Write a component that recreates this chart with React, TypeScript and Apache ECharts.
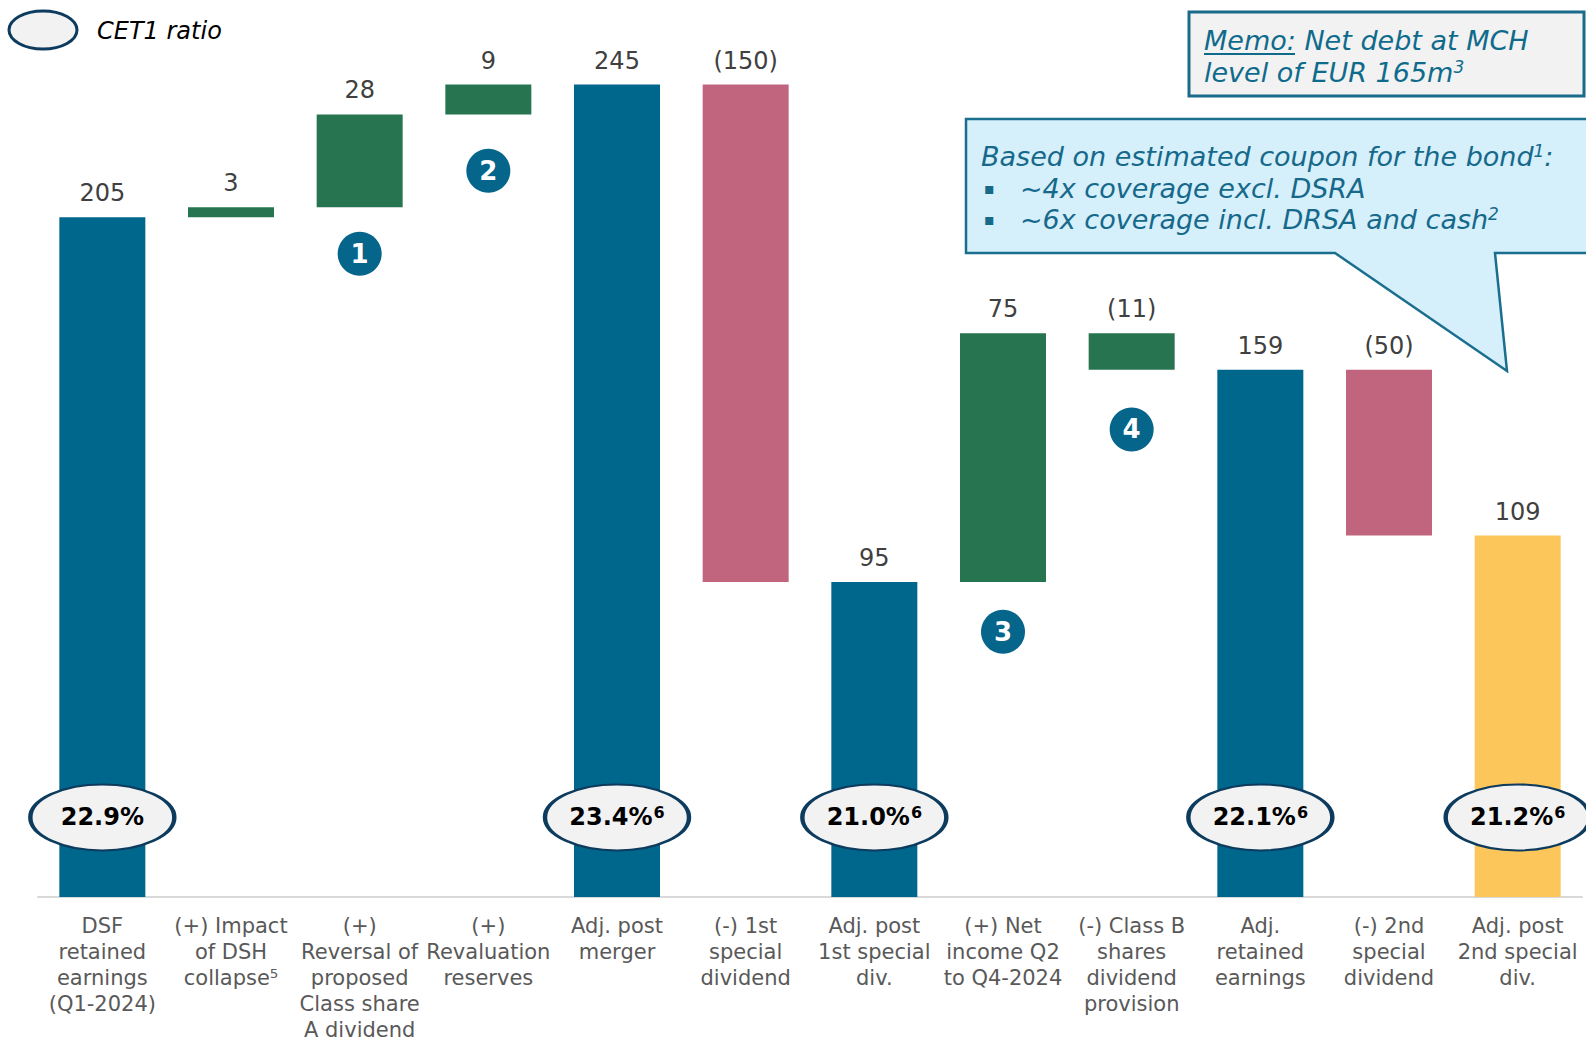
import React, { useEffect, useRef } from "react";
import * as echarts from "echarts";

// ---- data ----
const categories = [
  "DSF\nretained\nearnings\n(Q1-2024)",
  "(+) Impact\nof DSH\ncollapse⁵",
  "(+)\nReversal of\nproposed\nClass share\nA dividend",
  "(+)\nRevaluation\nreserves",
  "Adj. post\nmerger",
  "(-) 1st\nspecial\ndividend",
  "Adj. post\n1st special\ndiv.",
  "(+) Net\nincome Q2\nto Q4-2024",
  "(-) Class B\nshares\ndividend\nprovision",
  "Adj.\nretained\nearnings",
  "(-) 2nd\nspecial\ndividend",
  "Adj. post\n2nd special\ndiv.",
];
const values = [205, 3, 28, 9, 245, -150, 95, 75, -11, 159, -50, 109];
const isTotal = [true, false, false, false, true, false, true, false, false, true, false, true];
const colorGroup = ["total", "gain", "gain", "gain", "total", "loss", "total", "gain", "gain", "total", "loss", "final"];

const cet1Index = [0, 4, 6, 9, 11];
const cet1Values = ["22.9%", "23.4%", "21.0%", "22.1%", "21.2%"];
const cet1Notes = ["", "6", "6", "6", "6"];

const markerIndex = [2, 3, 7, 8];
const markerLevel = [194, 219, 80, 141];
const markerLabels = ["1", "2", "3", "4"];

// ---- styling ----
const COLORS: Record<string, string> = {
  total: "#00678c",
  gain: "#277550",
  loss: "#c1657f",
  final: "#fdc65b",
};
const CET1_LEVEL = 24;
const FONT = "DejaVu Sans";

function fmt(v: number) {
  return v < 0 ? `(${Math.abs(v)})` : `${v}`;
}

export default function App() {
  const ref = useRef<HTMLDivElement>(null);
  useEffect(() => {
    if (!ref.current) return;
    const chart = echarts.init(ref.current, undefined, { renderer: "svg" });

    const base: number[] = [];
    const height: number[] = [];
    let running = 0;
    values.forEach((v, i) => {
      if (isTotal[i]) {
        base.push(0);
        height.push(v);
        running = v;
      } else {
        const end = running + v;
        base.push(Math.min(running, end));
        height.push(Math.abs(v));
        running = end;
      }
    });

    const ellipsePath = "path://M0,30 A60,30 0 1,1 120,30 A60,30 0 1,1 0,30 Z";
    const textStyle = (size: number, color: string, italic = true) => ({
      fontFamily: FONT,
      fontStyle: italic ? "italic" : "normal",
      fontSize: size,
      fill: color,
      verticalAlign: "middle",
    });
    const supRich = (color: string) => ({
      s: { fontFamily: FONT, fontStyle: "italic", fontSize: 17, fill: color, color, verticalAlign: "top", lineHeight: 27 },
    });

    chart.setOption({
      animation: false,
      grid: { left: 38, right: 4, top: 68, bottom: 144, containLabel: false, outerBoundsMode: "none" },
      xAxis: {
        type: "category",
        data: categories,
        axisLine: { lineStyle: { color: "#d9d9d9", width: 2 } },
        axisTick: { show: false },
        axisLabel: {
          interval: 0,
          fontFamily: FONT,
          fontSize: 21,
          lineHeight: 26,
          color: "#595959",
          margin: 16,
        },
      },
      yAxis: {
        type: "value",
        min: 0,
        max: 250,
        show: false,
        splitLine: { show: false },
      },
      series: [
        {
          type: "bar",
          stack: "wf",
          data: base,
          barWidth: 86,
          itemStyle: { color: "transparent" },
          silent: true,
        },
        {
          type: "bar",
          stack: "wf",
          barWidth: 86,
          data: height.map((h, i) => ({
            value: h,
            itemStyle: { color: COLORS[colorGroup[i]] },
          })),
          label: {
            show: true,
            position: "top",
            distance: 12,
            fontFamily: FONT,
            fontSize: 24,
            color: "#404040",
            formatter: (p: any) => fmt(values[p.dataIndex]),
          },
        },
        {
          type: "scatter",
          z: 5,
          symbol: ellipsePath,
          symbolSize: [144, 66],
          itemStyle: { color: "#f2f2f2", borderColor: "#0d3b5e", borderWidth: 3, opacity: 1 },
          data: cet1Index.map((ix, k) => ({
            value: [ix, CET1_LEVEL],
            label: {
              formatter: cet1Notes[k] ? `{a|${cet1Values[k]}}{s|${cet1Notes[k]}}` : `{a|${cet1Values[k]}}`,
            },
          })),
          label: {
            show: true,
            position: "inside",
            color: "#000000",
            rich: {
              a: { fontFamily: FONT, fontWeight: "bold", fontSize: 24, color: "#000000", lineHeight: 26 },
              s: { fontFamily: FONT, fontWeight: "bold", fontSize: 16, color: "#000000", verticalAlign: "top", padding: [0, 0, 0, 1] },
            },
          },
        },
        {
          type: "scatter",
          z: 5,
          symbol: "circle",
          symbolSize: 44,
          itemStyle: { color: "#05658a", opacity: 1 },
          data: markerIndex.map((ix, k) => ({
            value: [ix, markerLevel[k]],
            label: { formatter: markerLabels[k] },
          })),
          label: {
            show: true,
            position: "inside",
            fontFamily: FONT,
            fontWeight: "bold",
            fontSize: 26,
            color: "#ffffff",
          },
        },
      ],
      graphic: [
        {
          type: "ellipse",
          shape: { cx: 43, cy: 30, rx: 34, ry: 19 },
          style: { fill: "#f2f2f2", stroke: "#0d3b5e", lineWidth: 3 },
        },
        { type: "text", x: 97, y: 31, style: { text: "CET1 ratio", ...textStyle(24, "#000000") } },
        {
          type: "rect",
          shape: { x: 1189, y: 12, width: 395, height: 84 },
          style: { fill: "#f2f2f2", stroke: "#1a6b8a", lineWidth: 3 },
        },
        { type: "text", x: 1204, y: 40, style: { text: "Memo: Net debt at MCH", ...textStyle(27, "#0f6b8c") } },
        {
          type: "line",
          shape: { x1: 1204, y1: 54, x2: 1295, y2: 54 },
          style: { stroke: "#0f6b8c", lineWidth: 2 },
        },
        {
          type: "text",
          x: 1204,
          y: 72,
          style: { text: "level of EUR 165m{s|3}", ...textStyle(27, "#0f6b8c"), rich: supRich("#0f6b8c") },
        },
        {
          type: "polygon",
          shape: {
            points: [
              [966, 119],
              [1590, 119],
              [1590, 253],
              [1495, 253],
              [1507, 371],
              [1335, 253],
              [966, 253],
            ],
          },
          style: { fill: "#d5effb", stroke: "#1a6e8e", lineWidth: 2.5 },
        },
        {
          type: "text",
          x: 981,
          y: 156,
          style: {
            text: "Based on estimated coupon for the bond{s|1}:",
            ...textStyle(27, "#16698a"),
            rich: supRich("#16698a"),
          },
        },
        { type: "text", x: 984, y: 188, style: { text: "▪", ...textStyle(16, "#16698a", false) } },
        { type: "text", x: 1020, y: 188, style: { text: "~4x coverage excl. DSRA", ...textStyle(27, "#16698a") } },
        { type: "text", x: 984, y: 219, style: { text: "▪", ...textStyle(16, "#16698a", false) } },
        {
          type: "text",
          x: 1020,
          y: 219,
          style: {
            text: "~6x coverage incl. DRSA and cash{s|2}",
            ...textStyle(27, "#16698a"),
            rich: supRich("#16698a"),
          },
        },
      ],
    });
    return () => chart.dispose();
  }, []);
  return (
    <div
      ref={ref}
      style={{ position: "absolute", left: 0, top: 0, width: 1586, height: 1041, background: "#ffffff" }}
    />
  );
}
